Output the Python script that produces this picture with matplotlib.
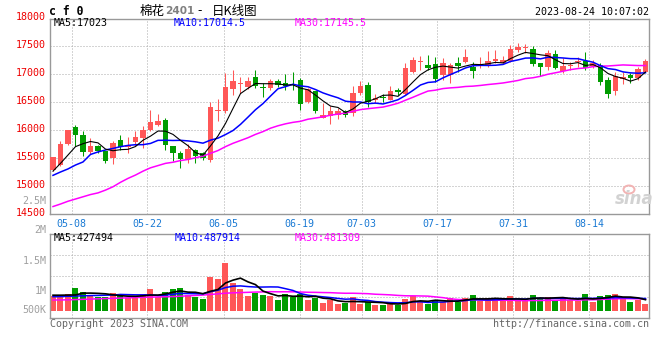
import numpy as np
import pandas as pd
import matplotlib
matplotlib.use("Agg")
import matplotlib.pyplot as plt
from matplotlib.transforms import ScaledTranslation
from matplotlib.patches import Ellipse

# ---------------- data ----------------
opens = [15280, 15370, 15740, 16055, 15915, 15600, 15720, 15618, 15500, 15821,
         15696, 15779, 15857, 16005, 16095, 16172, 15720, 15577, 15482, 15648,
         15589, 15458, 16332, 16345, 16732, 16820, 16779, 16946, 16779, 16761,
         16880, 16839, 16820, 16898, 16493, 16690, 16214, 16243, 16261, 16333,
         16304, 16661, 16809, 16529, 16600, 16541, 16720, 16650, 17046, 17225,
         17166, 17184, 16988, 16988, 17196, 17225, 17125, 17148, 17166, 17237,
         17207, 17237, 17428, 17470, 17460, 17196, 17136, 17363, 17065, 17148,
         17225, 17237, 17148, 17166, 16898, 16702, 16911, 16988, 16928, 17046]
closes = [15510, 15740, 16000, 15915, 15600, 15707, 15618, 15439, 15768, 15696,
          15738, 15868, 16005, 16136, 16154, 15726, 15577, 15470, 15660, 15529,
          15500, 16410, 16362, 16779, 16880, 16830, 16880, 16797, 16761, 16880,
          16809, 16791, 16800, 16470, 16732, 16333, 16273, 16333, 16345, 16273,
          16661, 16791, 16500, 16571, 16580, 16690, 16672, 17107, 17255, 17237,
          17118, 16911, 17207, 17166, 17148, 17302, 17065, 17178, 17243, 17273,
          17255, 17452, 17488, 17488, 17175, 17136, 17375, 17119, 17154, 17155,
          17240, 17119, 17196, 16868, 16643, 16970, 16957, 16940, 17089, 17237]
highs = [15520, 15796, 16005, 16080, 15975, 15857, 15735, 15625, 15796, 15916,
         15875, 15975, 16065, 16362, 16290, 16214, 15720, 15618, 15750, 15660,
         15610, 16493, 16559, 17018, 17077, 16957, 16946, 17077, 16839, 16910,
         16910, 17005, 17036, 16940, 16760, 16700, 16482, 16421, 16400, 16360,
         16791, 16886, 16868, 16640, 16640, 16780, 16750, 17207, 17302, 17330,
         17344, 17302, 17285, 17196, 17314, 17446, 17214, 17314, 17416, 17434,
         17332, 17523, 17553, 17535, 17500, 17196, 17434, 17434, 17296, 17225,
         17314, 17404, 17255, 17196, 16957, 17048, 17036, 17030, 17125, 17268]
lows = [15270, 15350, 15738, 15707, 15530, 15559, 15580, 15398, 15380, 15648,
        15589, 15707, 15679, 15975, 16065, 15648, 15439, 15321, 15410, 15398,
        15460, 15422, 16154, 16304, 16630, 16661, 16732, 16761, 16600, 16720,
        16770, 16720, 16708, 16362, 16480, 16304, 16214, 16113, 16200, 16230,
        16243, 16630, 16411, 16480, 16500, 16530, 16630, 16630, 17018, 17080,
        17077, 16868, 16898, 16839, 17047, 17196, 16928, 17107, 17136, 17196,
        17178, 17225, 17393, 17375, 17140, 16975, 17077, 17089, 17018, 17077,
        17136, 17077, 17107, 16809, 16582, 16620, 16821, 16839, 16898, 17041]
volumes_k = [600, 600, 652, 908, 748, 612, 548, 560, 708, 572,
             520, 520, 652, 868, 560, 748, 868, 908, 628, 532,
             468, 1348, 1268, 1920, 1108, 868, 600, 720, 628, 588,
             428, 680, 560, 680, 440, 520, 308, 428, 268, 292,
             548, 268, 360, 212, 212, 348, 212, 468, 588, 348,
             268, 428, 360, 508, 348, 508, 628, 372, 508, 452,
             428, 588, 372, 452, 628, 508, 548, 440, 508, 428,
             400, 668, 360, 588, 628, 668, 492, 348, 428, 268]

# moving-average values before a full window exists
ma5_head = [15260, 15400, 15550, 15700]
ma10_head = [15185, 15245, 15300, 15370, 15425, 15560, 15605, 15640, 15668]
ma30_head = [14625, 14670, 14720, 14760, 14800, 14840, 14870, 14920, 14980, 15060,
             15130, 15190, 15260, 15320, 15360, 15400, 15420, 15450, 15470, 15500,
             15530, 15580, 15630, 15700, 15760, 15810, 15860, 15920, 15970]
vol_ma5_head_k = [620, 620, 625, 630]
vol_ma10_head_k = [560, 565, 575, 585, 595, 605, 610, 620, 625]
vol_ma30_head_k = [428, 430, 435, 445, 455, 465, 475, 485, 495, 505,
                   515, 525, 535, 545, 550, 558, 565, 580, 595, 610,
                   625, 650, 675, 700, 715, 725, 735, 745, 752]

date_labels = ["05-08", "05-22", "06-05", "06-19", "07-03", "07-17", "07-31", "08-14"]
date_pos = [2.5, 12.6, 22.75, 32.9, 41.15, 51.25, 61.35, 71.5]
price_ticks = [14500, 15000, 15500, 16000, 16500, 17000, 17500, 18000]
vol_label_texts = ["2.5M", "2M", "1.5M", "1M", "500K"]

# ---------------- helpers ----------------
def moving(values, n, head):
    s = pd.Series(values, dtype=float).rolling(n).mean()
    s.iloc[:n - 1] = head
    return s.values

o = np.array(opens, float)
c = np.array(closes, float)
h = np.array(highs, float)
l = np.array(lows, float)
vol = np.array(volumes_k, float) * 1000
x = np.arange(len(c))

ma5 = moving(c, 5, ma5_head)
ma10 = moving(c, 10, ma10_head)
ma30 = moving(c, 30, ma30_head)
vma5 = moving(vol, 5, np.array(vol_ma5_head_k) * 1000)
vma10 = moving(vol, 10, np.array(vol_ma10_head_k) * 1000)
vma30 = moving(vol, 30, np.array(vol_ma30_head_k) * 1000)

RED = "#ff5757"
GREEN = "#009c00"
colors = np.where(c >= o, RED, GREEN)

W, H = 660, 360
fig = plt.figure(figsize=(6.6, 3.6), dpi=100)
fig.patch.set_facecolor("white")

def fx(px):
    return px / W

def fy(py):
    return 1 - py / H

MONO = "DejaVu Sans Mono"
FS = 7.2
GRID = dict(color="#ababab", lw=0.72, ls=(0, (1, 2)), zorder=0)
XL = (-0.4, 79.47)

# ---------------- price panel ----------------
ax = fig.add_axes([fx(50), fy(213.5), (649 - 50) / W, (213.5 - 18.5) / H])
ax.set_xlim(*XL)
ax.set_ylim(14500, 18000)
for v in price_ticks[1:-1]:
    ax.axhline(v, **GRID)
for p in date_pos:
    ax.axvline(p, **GRID)

ax.vlines(x, l, h, colors=colors, lw=0.75, zorder=2)
body_h = np.maximum(np.abs(c - o), 18)
ax.bar(x, body_h, bottom=np.minimum(o, c), width=0.74, color=colors,
       linewidth=0, zorder=3)

ax.plot(x, ma30, color="#ff00ff", lw=1.1, zorder=4)
ax.plot(x, ma10, color="#0000ff", lw=1.1, zorder=4)
ax.plot(x, ma5, color="black", lw=0.8, zorder=5)

ax.set_yticks(price_ticks)
ax.set_yticklabels([str(t) for t in price_ticks], color="#ee0000",
                   fontsize=FS, family=MONO)
ax.set_xticks(date_pos)
ax.set_xticklabels(date_labels, color="#1a7ad4", fontsize=FS, family=MONO)
ax.tick_params(axis="y", length=0, pad=3)
ax.tick_params(axis="x", length=0, pad=4)
shift = ScaledTranslation(0, 0.02, fig.dpi_scale_trans)
for lbl in ax.get_yticklabels():
    lbl.set_transform(lbl.get_transform() + shift)
for sp in ax.spines.values():
    sp.set_color("#999999")
    sp.set_linewidth(1.0)

# ---------------- volume panel ----------------
axv = fig.add_axes([fx(50), fy(318.3), (649 - 50) / W, (318.3 - 234) / H])
axv.set_xlim(*XL)
axv.set_ylim(-304e3, 3.068e6)
for f in (0.25, 0.5, 0.75):
    axv.plot([0, 1], [f, f], transform=axv.transAxes, **GRID)
for p in date_pos:
    axv.axvline(p, **GRID)
axv.bar(x, vol, width=0.8, color=colors, linewidth=0, zorder=2)
axv.plot(x, vma30, color="#ff00ff", lw=1.1, zorder=3)
axv.plot(x, vma10, color="#0000ff", lw=1.1, zorder=3)
axv.plot(x, vma5, color="black", lw=1.2, zorder=4)
axv.set_xticks([])
axv.set_yticks([])
for sp in axv.spines.values():
    sp.set_color("#999999")
    sp.set_linewidth(1.0)

# ---------------- texts ----------------
for txt, py in zip(vol_label_texts, [200.5, 230.3, 260.7, 290.7, 310.0]):
    fig.text(fx(46.5), fy(py), txt, ha="right", va="center", color="#a0a0a0",
             fontsize=FS, family=MONO)

fig.text(fx(54), fy(23.3), "MA5:17023", va="center", color="black", fontsize=FS, family=MONO)
fig.text(fx(174), fy(23.3), "MA10:17014.5", va="center", color="#0000ff", fontsize=FS, family=MONO)
fig.text(fx(295), fy(23.3), "MA30:17145.5", va="center", color="#ff00ff", fontsize=FS, family=MONO)

fig.text(fx(54), fy(238.3), "MA5:427494", va="center", color="black", fontsize=FS, family=MONO)
fig.text(fx(175), fy(238.3), "MA10:487914", va="center", color="#0000ff", fontsize=FS, family=MONO)
fig.text(fx(295), fy(238.3), "MA30:481309", va="center", color="#ff00ff", fontsize=FS, family=MONO)

fig.text(fx(49), fy(11.5), "c f 0", va="center", ha="left", color="black",
         fontsize=8.3, family=MONO, weight="bold")
CJK = ["Noto Sans CJK SC", "DejaVu Sans"]
fig.text(fx(140), fy(11), "棉花", va="center", ha="left", color="black",
         fontsize=9, family=CJK)
fig.text(fx(165.5), fy(11.5), "2401", va="center", ha="left", color="#808080",
         fontsize=7.6, family="DejaVu Sans", weight="bold")
fig.text(fx(197), fy(11), "-", va="center", ha="left", color="black",
         fontsize=9, family=CJK)
fig.text(fx(212), fy(11), "日K线图", va="center", ha="left", color="black",
         fontsize=9, family=CJK)
fig.text(fx(649), fy(12), "2023-08-24 10:07:02", va="center", ha="right",
         color="black", fontsize=FS, family=MONO)

fig.text(fx(50), fy(324.2), "Copyright 2023 SINA.COM", va="center", ha="left",
         color="#666666", fontsize=FS, family=MONO)
fig.text(fx(649), fy(324.2), "http://finance.sina.com.cn", va="center", ha="right",
         color="#666666", fontsize=FS, family=MONO)

# sina watermark
fig.text(fx(634), fy(199), "sina", va="center", ha="center", color="#d2d2d2",
         fontsize=12, family="DejaVu Sans", style="italic", weight="bold")
fig.add_artist(Ellipse((fx(629), fy(189.5)), 11 / W, 8 / H, transform=fig.transFigure,
                       facecolor="none", edgecolor="#f2b3b3", lw=1.4))

fig.savefig("out.png", dpi=100)
